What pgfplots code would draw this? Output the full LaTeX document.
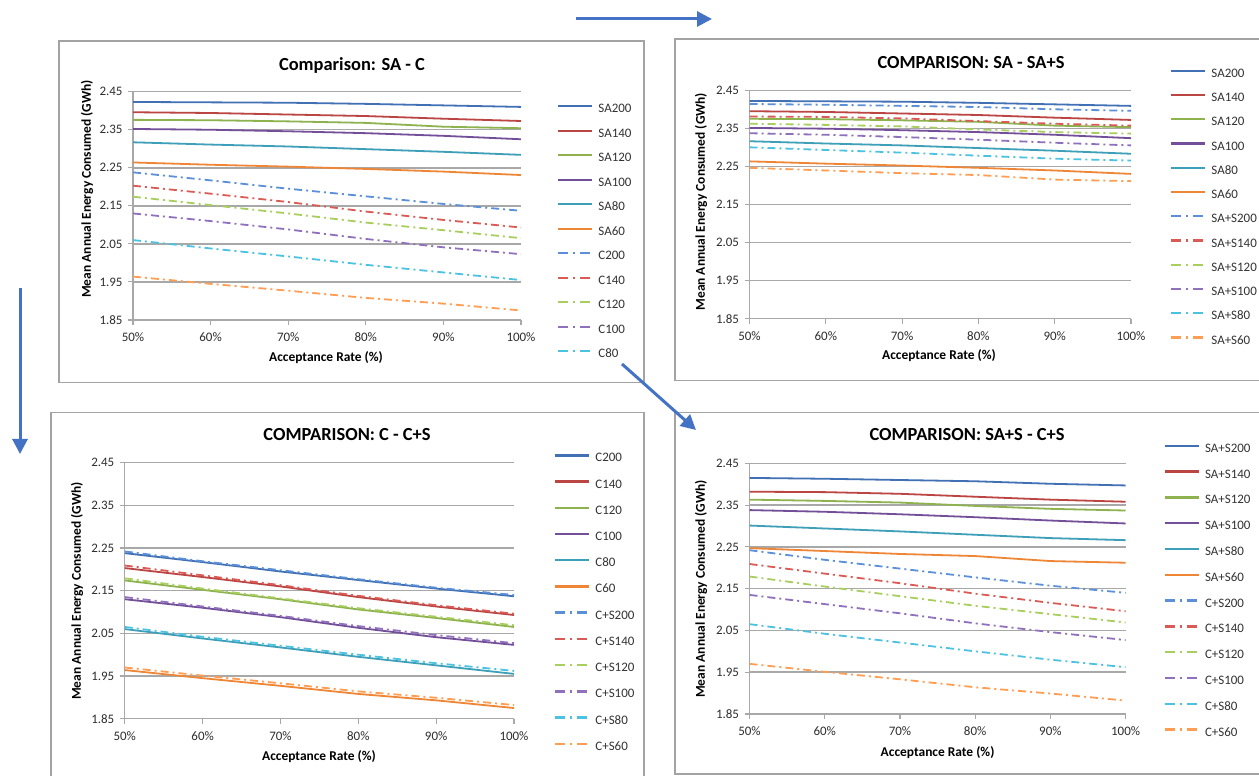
\documentclass[border=0pt]{standalone}
\usepackage{fontspec}
\setmainfont{Carlito}
\usepackage{pgfplots}
\usepackage{pgfplotstable}
\pgfplotsset{compat=1.18}
\usetikzlibrary{arrows.meta}

\definecolor{sblue}{HTML}{4170B5}
\definecolor{sred}{HTML}{BA4542}
\definecolor{sgreen}{HTML}{8DB24E}
\definecolor{spurple}{HTML}{724F98}
\definecolor{steal}{HTML}{3E9FB8}
\definecolor{sorange}{HTML}{EE8636}
\definecolor{dblue}{HTML}{5B8FD8}
\definecolor{dred}{HTML}{DA5A56}
\definecolor{dgreen}{HTML}{A8CF5E}
\definecolor{dpurple}{HTML}{8F70BC}
\definecolor{dcyan}{HTML}{4CC2E2}
\definecolor{dorange}{HTML}{FF9D52}
\definecolor{gridgray}{HTML}{A8A8A8}
\definecolor{boxgray}{HTML}{A3A3A3}
\definecolor{arrowblue}{HTML}{4472C4}

\pgfplotstableread{
x   SA200 SA140 SA120 SA100 SA80  SA60  C200  C140  C120  C100  C80   C60   SAS200 SAS140 SAS120 SAS100 SAS80 SAS60 CS200 CS140 CS120 CS100 CS80  CS60
50  2.423 2.396 2.376 2.352 2.317 2.264 2.238 2.203 2.174 2.130 2.060 1.964 2.415  2.382  2.363  2.338  2.301 2.247 2.242 2.209 2.179 2.135 2.065 1.970
60  2.422 2.394 2.375 2.350 2.311 2.258 2.217 2.182 2.152 2.110 2.038 1.945 2.413  2.381  2.360  2.334  2.294 2.240 2.219 2.186 2.155 2.113 2.042 1.951
70  2.421 2.390 2.372 2.346 2.306 2.253 2.195 2.160 2.130 2.088 2.017 1.927 2.410  2.377  2.356  2.328  2.287 2.233 2.198 2.163 2.132 2.091 2.021 1.933
80  2.418 2.386 2.368 2.341 2.299 2.247 2.175 2.135 2.106 2.063 1.995 1.908 2.407  2.370  2.348  2.321  2.279 2.228 2.177 2.138 2.109 2.067 2.000 1.914
90  2.414 2.379 2.358 2.334 2.292 2.240 2.155 2.113 2.086 2.041 1.975 1.893 2.401  2.363  2.341  2.313  2.271 2.216 2.157 2.116 2.089 2.046 1.980 1.899
100 2.410 2.373 2.354 2.325 2.284 2.231 2.137 2.093 2.065 2.023 1.955 1.875 2.397  2.358  2.337  2.306  2.266 2.212 2.140 2.096 2.069 2.027 1.962 1.882
}\data

\pgfplotsset{
  panel/.style={
    scale only axis, anchor=south west,
    xmin=50, xmax=100, ymin=1.85, ymax=2.45,
    xtick={50,60,70,80,90,100},
    xticklabels={50\%,60\%,70\%,80\%,90\%,100\%},
    ytick={1.85,1.95,2.05,2.15,2.25,2.35,2.45},
    /pgf/number format/assume math mode=true,
    yticklabel style={/pgf/number format/fixed, /pgf/number format/fixed zerofill, /pgf/number format/precision=2, xshift=-2bp},
    xticklabel style={yshift=-4bp},
    tick label style={font=\fontsize{13}{15}\selectfont, text=black!82},
    axis lines*=left,
    axis line style={draw=gridgray, line width=1.1bp, -},
    tick style={draw=gridgray, line width=1.1bp},
    tick align=outside, major tick length=5bp,
    ymajorgrids, grid style={draw=gridgray, line width=1.5bp},
    legend cell align=left,
    legend image code/.code={\draw[##1, line width=2.4bp] (0bp,3.5bp) -- (34bp,3.5bp);},
    legend style={draw=none, fill=none, anchor=north west, inner sep=0pt, outer sep=0pt,
      font=\fontsize{13}{15}\selectfont, text=black!80,
      nodes={inner sep=0pt, text height=9bp, text depth=3bp},
      /tikz/every odd column/.append style={column sep=5bp}},
  },
  sl/.style={line width=1.8bp},
  dd/.style={line width=1.8bp, dash pattern=on 8bp off 4bp on 2bp off 4bp,
    legend image code/.code={\draw[##1, line width=2.4bp, dash pattern=on 10bp off 5bp on 2bp off 5bp] (0bp,3.5bp) -- (34bp,3.5bp);}},
}

\begin{document}
\begin{tikzpicture}[x=1bp, y=1bp]
\useasboundingbox (0,0) rectangle (1259,776);
\fill[white] (0,0) rectangle (1259,776);

% panel boxes
\draw[boxgray, line width=1.3bp] (59,393.7) rectangle (644,735);
\draw[boxgray, line width=1.3bp] (675,395.3) rectangle (1290,737);
\draw[boxgray, line width=1.3bp] (51,-20) rectangle (644,363.3);
\draw[boxgray, line width=1.3bp] (675,2) rectangle (1290,363.3);

% ---------- Panel 1: SA - C
\begin{axis}[panel, at={(133bp,456bp)}, width=388bp, height=228.3bp,
  legend style={at={(1.0928,0.9474)}, row sep=12.5bp}]
\addplot[sl, sblue]   table[x=x, y=SA200]{\data}; \addlegendentry{SA200}
\addplot[sl, sred]    table[x=x, y=SA140]{\data}; \addlegendentry{SA140}
\addplot[sl, sgreen]  table[x=x, y=SA120]{\data}; \addlegendentry{SA120}
\addplot[sl, spurple] table[x=x, y=SA100]{\data}; \addlegendentry{SA100}
\addplot[sl, steal]   table[x=x, y=SA80]{\data};  \addlegendentry{SA80}
\addplot[sl, sorange] table[x=x, y=SA60]{\data};  \addlegendentry{SA60}
\addplot[dd, dblue]   table[x=x, y=C200]{\data};  \addlegendentry{C200}
\addplot[dd, dred]    table[x=x, y=C140]{\data};  \addlegendentry{C140}
\addplot[dd, dgreen]  table[x=x, y=C120]{\data};  \addlegendentry{C120}
\addplot[dd, dpurple] table[x=x, y=C100]{\data};  \addlegendentry{C100}
\addplot[dd, dcyan]   table[x=x, y=C80]{\data};   \addlegendentry{C80}
\addplot[dd, dorange, forget plot] table[x=x, y=C60]{\data};
\end{axis}
\node[font=\bfseries\fontsize{18.5}{20}\selectfont] at (352,711) {Comparison: SA - C};
\node[font=\bfseries\fontsize{13.5}{15}\selectfont] at (326,418) {Acceptance Rate (\%)};
\node[font=\bfseries\fontsize{13.5}{15}\selectfont, rotate=90] at (87,587) {Mean Annual Energy Consumed (GWh)};

% ---------- Panel 2: SA - SA+S
\begin{axis}[panel, at={(749.5bp,457.3bp)}, width=381.5bp, height=228bp,
  legend style={at={(1.1022,1.0982)}, row sep=12.25bp}]
\addplot[sl, sblue]   table[x=x, y=SA200]{\data}; \addlegendentry{SA200}
\addplot[sl, sred]    table[x=x, y=SA140]{\data}; \addlegendentry{SA140}
\addplot[sl, sgreen]  table[x=x, y=SA120]{\data}; \addlegendentry{SA120}
\addplot[sl, spurple] table[x=x, y=SA100]{\data}; \addlegendentry{SA100}
\addplot[sl, steal]   table[x=x, y=SA80]{\data};  \addlegendentry{SA80}
\addplot[sl, sorange] table[x=x, y=SA60]{\data};  \addlegendentry{SA60}
\addplot[dd, dblue]   table[x=x, y=SAS200]{\data}; \addlegendentry{SA+S200}
\addplot[dd, dred]    table[x=x, y=SAS140]{\data}; \addlegendentry{SA+S140}
\addplot[dd, dgreen]  table[x=x, y=SAS120]{\data}; \addlegendentry{SA+S120}
\addplot[dd, dpurple] table[x=x, y=SAS100]{\data}; \addlegendentry{SA+S100}
\addplot[dd, dcyan]   table[x=x, y=SAS80]{\data};  \addlegendentry{SA+S80}
\addplot[dd, dorange] table[x=x, y=SAS60]{\data};  \addlegendentry{SA+S60}
\end{axis}
\node[font=\bfseries\fontsize{18.5}{20}\selectfont] at (971,713.3) {COMPARISON: SA - SA+S};
\node[font=\bfseries\fontsize{13.5}{15}\selectfont] at (939,420) {Acceptance Rate (\%)};
\node[font=\bfseries\fontsize{13.5}{15}\selectfont, rotate=90] at (701,574.3) {Mean Annual Energy Consumed (GWh)};

% ---------- Panel 3: C - C+S
\begin{axis}[panel, at={(124.8bp,57.3bp)}, width=389.2bp, height=256bp,
  legend style={at={(1.1028,1.0379)}, row sep=14.2bp}]
\addplot[sl, sblue]   table[x=x, y=C200]{\data}; \addlegendentry{C200}
\addplot[sl, sred]    table[x=x, y=C140]{\data}; \addlegendentry{C140}
\addplot[sl, sgreen]  table[x=x, y=C120]{\data}; \addlegendentry{C120}
\addplot[sl, spurple] table[x=x, y=C100]{\data}; \addlegendentry{C100}
\addplot[sl, steal]   table[x=x, y=C80]{\data};  \addlegendentry{C80}
\addplot[sl, sorange] table[x=x, y=C60]{\data};  \addlegendentry{C60}
\addplot[dd, dblue]   table[x=x, y=CS200]{\data}; \addlegendentry{C+S200}
\addplot[dd, dred]    table[x=x, y=CS140]{\data}; \addlegendentry{C+S140}
\addplot[dd, dgreen]  table[x=x, y=CS120]{\data}; \addlegendentry{C+S120}
\addplot[dd, dpurple] table[x=x, y=CS100]{\data}; \addlegendentry{C+S100}
\addplot[dd, dcyan]   table[x=x, y=CS80]{\data};  \addlegendentry{C+S80}
\addplot[dd, dorange] table[x=x, y=CS60]{\data};  \addlegendentry{C+S60}
\end{axis}
\node[font=\bfseries\fontsize{18.5}{20}\selectfont] at (347,341) {COMPARISON: C - C+S};
\node[font=\bfseries\fontsize{13.5}{15}\selectfont] at (319,19) {Acceptance Rate (\%)};
\node[font=\bfseries\fontsize{13.5}{15}\selectfont, rotate=90] at (77,185) {Mean Annual Energy Consumed (GWh)};

% ---------- Panel 4: SA+S - C+S
\begin{axis}[panel, at={(749.5bp,62bp)}, width=376.1bp, height=250.7bp,
  legend style={at={(1.101,1.0798)}, row sep=13.8bp}]
\addplot[sl, sblue]   table[x=x, y=SAS200]{\data}; \addlegendentry{SA+S200}
\addplot[sl, sred]    table[x=x, y=SAS140]{\data}; \addlegendentry{SA+S140}
\addplot[sl, sgreen]  table[x=x, y=SAS120]{\data}; \addlegendentry{SA+S120}
\addplot[sl, spurple] table[x=x, y=SAS100]{\data}; \addlegendentry{SA+S100}
\addplot[sl, steal]   table[x=x, y=SAS80]{\data};  \addlegendentry{SA+S80}
\addplot[sl, sorange] table[x=x, y=SAS60]{\data};  \addlegendentry{SA+S60}
\addplot[dd, dblue]   table[x=x, y=CS200]{\data}; \addlegendentry{C+S200}
\addplot[dd, dred]    table[x=x, y=CS140]{\data}; \addlegendentry{C+S140}
\addplot[dd, dgreen]  table[x=x, y=CS120]{\data}; \addlegendentry{C+S120}
\addplot[dd, dpurple] table[x=x, y=CS100]{\data}; \addlegendentry{C+S100}
\addplot[dd, dcyan]   table[x=x, y=CS80]{\data};  \addlegendentry{C+S80}
\addplot[dd, dorange] table[x=x, y=CS60]{\data};  \addlegendentry{C+S60}
\end{axis}
\node[font=\bfseries\fontsize{18.5}{20}\selectfont] at (967,341) {COMPARISON: SA+S - C+S};
\node[font=\bfseries\fontsize{13.5}{15}\selectfont] at (937.6,23.3) {Acceptance Rate (\%)};
\node[font=\bfseries\fontsize{13.5}{15}\selectfont, rotate=90] at (701,187) {Mean Annual Energy Consumed (GWh)};

% arrows
\draw[arrowblue, line width=3bp, -{Triangle[length=15bp,width=15bp]}] (576,757) -- (712,757);
\draw[arrowblue, line width=3bp, -{Triangle[length=15bp,width=15bp]}] (20,488) -- (20,322);
\draw[arrowblue, line width=3bp, -{Triangle[length=15bp,width=15bp]}] (622,412) -- (696,346);
\end{tikzpicture}
\end{document}
